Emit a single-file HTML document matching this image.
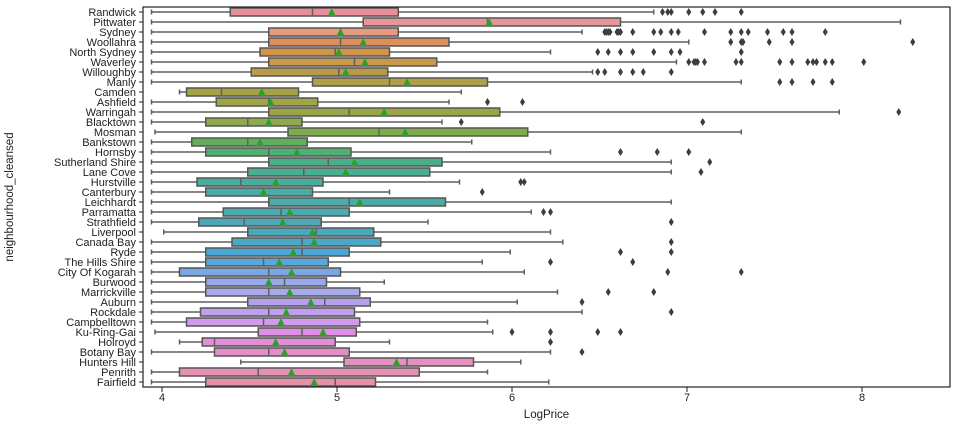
<!DOCTYPE html>
<html><head><meta charset="utf-8">
<style>
body{margin:0;background:#fff;}
svg{display:block;font-family:"Liberation Sans",sans-serif;}
</style></head>
<body>
<svg id="chart" width="957" height="428"></svg>
<script>
const categories=["Randwick","Pittwater","Sydney","Woollahra","North Sydney","Waverley","Willoughby","Manly","Camden","Ashfield","Warringah","Blacktown","Mosman","Bankstown","Hornsby","Sutherland Shire","Lane Cove","Hurstville","Canterbury","Leichhardt","Parramatta","Strathfield","Liverpool","Canada Bay","Ryde","The Hills Shire","City Of Kogarah","Burwood","Marrickville","Auburn","Rockdale","Campbelltown","Ku-Ring-Gai","Holroyd","Botany Bay","Hunters Hill","Penrith","Fairfield"];
const whiskerLow=[3.94,3.94,3.94,3.94,3.94,3.94,3.94,3.94,4.10,3.94,3.94,3.94,3.96,3.94,3.94,3.94,3.94,3.94,3.94,3.94,3.94,3.94,4.01,3.94,3.94,3.94,3.94,3.94,3.94,3.94,3.94,3.94,3.96,4.10,3.94,4.45,3.94,3.94];
const q1=[4.39,5.15,4.61,4.61,4.56,4.61,4.51,4.86,4.14,4.31,4.61,4.25,4.72,4.17,4.25,4.61,4.49,4.20,4.25,4.61,4.35,4.21,4.49,4.40,4.25,4.25,4.10,4.25,4.25,4.49,4.22,4.14,4.55,4.23,4.30,5.04,4.10,4.25];
const median=[4.86,5.86,5.02,5.02,4.99,5.10,5.01,5.30,4.34,4.61,5.07,4.49,5.24,4.49,4.61,4.95,4.81,4.45,4.58,5.07,4.68,4.47,4.88,4.80,4.80,4.58,4.61,4.70,4.61,4.93,4.61,4.58,4.80,4.30,4.61,5.40,4.55,4.99];
const q3=[5.35,6.62,5.35,5.64,5.30,5.57,5.29,5.86,4.78,4.89,5.93,4.80,6.09,4.83,5.08,5.60,5.53,4.92,4.86,5.62,5.07,4.91,5.21,5.25,5.07,4.95,5.02,4.94,5.13,5.19,5.10,5.13,5.11,4.99,5.07,5.78,5.47,5.22];
const whiskerHigh=[6.81,8.22,6.40,7.01,6.22,6.94,6.46,7.31,5.71,5.64,7.87,5.60,7.31,5.77,6.22,6.91,6.91,5.70,5.30,6.91,6.11,5.52,6.22,6.29,5.99,5.83,6.07,5.27,6.26,6.03,6.40,5.86,5.89,5.30,6.22,6.05,5.86,6.21];
const means=[4.97,5.87,5.02,5.15,5.01,5.16,5.05,5.40,4.57,4.62,5.27,4.61,5.39,4.56,4.77,5.10,5.05,4.65,4.58,5.13,4.73,4.69,4.86,4.87,4.75,4.67,4.74,4.61,4.73,4.85,4.71,4.68,4.92,4.65,4.70,5.34,4.74,4.87];
const outliers=[[6.86,6.89,6.91,7.01,7.09,7.16,7.31],[],[6.53,6.54,6.55,6.56,6.60,6.61,6.62,6.69,6.81,6.85,6.91,6.95,7.10,7.25,7.31,7.35,7.46,7.55,7.60,7.79],[7.25,7.31,7.32,7.47,7.60,8.29],[6.49,6.55,6.62,6.69,6.81,6.91,6.96,7.31],[7.01,7.04,7.05,7.06,7.10,7.28,7.31,7.53,7.60,7.69,7.72,7.74,7.79,7.83,8.01],[6.49,6.53,6.62,6.69,6.75,6.91],[7.53,7.60,7.72,7.83],[],[5.86,6.06],[8.21],[5.71,7.09],[],[],[6.62,6.83,7.01],[7.13],[7.08],[6.05,6.07],[5.83],[],[6.18,6.22],[6.91],[],[6.91],[6.62,6.91],[6.22,6.69],[6.89,7.31],[],[6.55,6.81],[6.40],[6.91],[],[6.00,6.22,6.49,6.62],[6.22],[6.40],[],[],[]];
const xTicks=[4,5,6,7,8];
const colors=["#e88e9a","#e8959a","#e69a80","#e08f5a","#d39348","#c99a4a","#b99a4a","#b09f48","#a4a345","#a0a545","#9aa547","#8eaa4b","#7cad48","#5fb058","#4fb072","#4aae88","#4aae92","#4aac9c","#4aaca4","#4aaca6","#4cabb0","#4ca8b4","#4aa8bc","#4ba8c6","#4ba8d4","#58a8e0","#7ba8e4","#98a8ec","#a8a8ec","#b4a0ec","#c0a0ec","#d29aec","#e08ee4","#e48ed8","#e48ec8","#e490c0","#e890b4","#e890a8"];
const L=143,R=950,T=7,B=387;
const xs=v=>162+(v-4)*175;
const ys=i=>12+i*10;
const NS="http://www.w3.org/2000/svg";
const svg=document.getElementById('chart');
function mk(tag,attrs,parent){const e=document.createElementNS(NS,tag);for(const k in attrs)e.setAttribute(k,attrs[k]);(parent||svg).appendChild(e);return e;}
categories.forEach((c,i)=>{
  const y=ys(i);
  const g=mk('g',{});
  
  
  const st={stroke:'#5f5f5f','stroke-width':1.5};
  mk('line',Object.assign({x1:xs(whiskerLow[i]),x2:xs(q1[i]),y1:y,y2:y},st),g);
  mk('line',Object.assign({x1:xs(q3[i]),x2:xs(whiskerHigh[i]),y1:y,y2:y},st),g);
  mk('line',Object.assign({x1:xs(whiskerLow[i]),x2:xs(whiskerLow[i]),y1:y-2.5,y2:y+2.5},st),g);
  mk('line',Object.assign({x1:xs(whiskerHigh[i]),x2:xs(whiskerHigh[i]),y1:y-2.5,y2:y+2.5},st),g);
  mk('rect',{x:xs(q1[i]),y:y-4,width:xs(q3[i])-xs(q1[i]),height:8,fill:colors[i],stroke:'#555','stroke-width':1.5},g);
  mk('line',Object.assign({x1:xs(median[i]),x2:xs(median[i]),y1:y-4,y2:y+4},st),g);
  const mx=xs(means[i]);
  mk('polygon',{points:`${mx-4},${y+4} ${mx+4},${y+4} ${mx},${y-4}`,fill:'#2ca02c'},g);
  outliers[i].forEach(v=>{const ox=xs(v);mk('polygon',{points:`${ox},${y-4} ${ox+2.5},${y} ${ox},${y+4} ${ox-2.5},${y}`,fill:'#3d3d3d'},g);});
  const lab=mk('text',{x:L-7,y:y+4,'text-anchor':'end','font-size':11,fill:'#222'});
  lab.textContent=c;
  
  
  mk('line',{x1:L-4,x2:L,y1:y,y2:y,stroke:'#222','stroke-width':1});
});
const frame=mk('rect',{x:L,y:T,width:R-L,height:B-T,fill:'none',stroke:'#222','stroke-width':1.2});


xTicks.forEach(t=>{
  mk('line',{x1:xs(t),x2:xs(t),y1:B,y2:B+5,stroke:'#222','stroke-width':1});
  const tl=mk('text',{x:xs(t),y:B+14,'text-anchor':'middle','font-size':11,fill:'#222'});
  tl.textContent=t;
  
  
});
const xl=mk('text',{x:(L+R)/2,y:418,'text-anchor':'middle','font-size':11.5,fill:'#222'});
xl.textContent='LogPrice';


const yl=mk('text',{x:0,y:0,'text-anchor':'middle','font-size':11.5,fill:'#222',transform:`translate(13,${(T+B)/2}) rotate(-90)`});
yl.textContent='neighbourhood_cleansed';


</script>
</body></html>
